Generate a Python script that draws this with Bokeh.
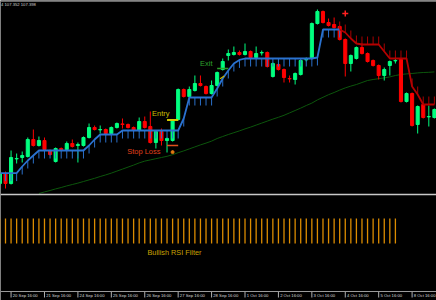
from bokeh.plotting import figure
from bokeh.models import Range1d, Span, ColumnDataSource
from bokeh.core.properties import value
from bokeh.embed import file_html
from bokeh.resources import INLINE

NaN = float("nan")

# ---------------- data (4h bars, index -1 .. 77) ----------------
bar_index = list(range(-1, 78))

opens = [107.285, 107.335, 107.285, 107.408, 107.415, 107.420, 107.505, 107.475, 107.500, 107.450,
         107.395, 107.460, 107.455, 107.485, 107.475, 107.475, 107.515, 107.565, 107.553, 107.555,
         107.535, 107.565, 107.583, 107.580, 107.565, 107.550, 107.595, 107.570, 107.490, 107.545,
         107.500, 107.500, 107.605, 107.755, 107.720, 107.750, 107.785, 107.770, 107.735, 107.775,
         107.855, 107.925, 107.930, 107.940, 107.930, 107.945, 107.915, 107.938, 107.940, 107.820,
         107.880, 107.855, 107.810, 107.805, 107.830, 107.903, 107.910, 108.085, 108.145, 108.090,
         108.080, 108.070, 108.005, 107.885, 107.910, 107.965, 107.935, 107.900, 107.875, 107.825,
         107.875, 107.898, 107.905, 107.695, 107.735, 107.580, 107.680, 107.618, 107.615]

highs = [107.350, 107.345, 107.450, 107.435, 107.445, 107.515, 107.555, 107.520, 107.515, 107.455,
         107.465, 107.465, 107.495, 107.505, 107.490, 107.520, 107.585, 107.575, 107.575, 107.560,
         107.570, 107.590, 107.610, 107.585, 107.570, 107.615, 107.620, 107.645, 107.550, 107.560,
         107.515, 107.605, 107.760, 107.760, 107.770, 107.825, 107.825, 107.775, 107.800, 107.845,
         107.910, 107.955, 107.970, 107.950, 107.985, 107.950, 107.970, 107.950, 107.945, 107.890,
         107.885, 107.860, 107.825, 107.840, 107.905, 107.915, 108.090, 108.155, 108.150, 108.110,
         108.115, 108.075, 108.010, 107.930, 107.970, 107.985, 107.940, 107.905, 107.880, 107.865,
         107.900, 107.910, 107.910, 107.740, 107.740, 107.675, 107.685, 107.675, 107.660]

lows = [107.275, 107.260, 107.280, 107.385, 107.390, 107.415, 107.470, 107.470, 107.450, 107.425,
        107.390, 107.450, 107.450, 107.465, 107.390, 107.470, 107.510, 107.550, 107.535, 107.530,
        107.530, 107.560, 107.560, 107.560, 107.545, 107.545, 107.560, 107.485, 107.460, 107.475,
        107.440, 107.495, 107.600, 107.715, 107.715, 107.745, 107.770, 107.730, 107.730, 107.770,
        107.850, 107.900, 107.925, 107.925, 107.925, 107.910, 107.910, 107.925, 107.865, 107.815,
        107.850, 107.790, 107.790, 107.780, 107.825, 107.895, 107.905, 108.080, 108.085, 108.070,
        108.060, 108.000, 107.820, 107.845, 107.905, 107.930, 107.890, 107.870, 107.805, 107.800,
        107.825, 107.885, 107.690, 107.690, 107.570, 107.535, 107.610, 107.570, 107.610]

closes = [107.335, 107.285, 107.415, 107.410, 107.425, 107.505, 107.475, 107.500, 107.455, 107.430,
          107.460, 107.455, 107.485, 107.470, 107.480, 107.515, 107.565, 107.555, 107.555, 107.535,
          107.565, 107.585, 107.580, 107.565, 107.550, 107.595, 107.565, 107.490, 107.545, 107.500,
          107.510, 107.600, 107.755, 107.720, 107.755, 107.785, 107.775, 107.735, 107.775, 107.840,
          107.895, 107.935, 107.940, 107.930, 107.945, 107.915, 107.935, 107.940, 107.870, 107.885,
          107.855, 107.815, 107.808, 107.835, 107.900, 107.905, 108.085, 108.145, 108.090, 108.075,
          108.065, 108.005, 107.885, 107.925, 107.965, 107.935, 107.895, 107.875, 107.825, 107.855,
          107.895, 107.900, 107.695, 107.735, 107.575, 107.670, 107.615, 107.620, 107.655]

# trailing stop (bullish, blue) and (bearish, red)
trail_up = [107.337, 107.337, 107.337, 107.337, 107.370, 107.400, 107.425,
            107.450, 107.450, 107.450, 107.450, 107.450, 107.450, 107.450, 107.450, 107.450,
            107.475, 107.505, 107.530, 107.530, 107.530, 107.530,
            107.550, 107.550, 107.550, 107.550, 107.550, 107.550, 107.550, 107.550, 107.550, 107.550, 107.550,
            107.610, 107.715, 107.715, 107.715, 107.715, 107.715,
            107.760, 107.810, 107.850, 107.885, 107.903,
            107.910, 107.910, 107.910, 107.910, 107.910, 107.910, 107.910, 107.910, 107.910, 107.910,
            107.910, 107.910, 107.910, 107.915, 108.055, 108.055, 108.055, 108.055,
            NaN, NaN, NaN, NaN, NaN, NaN, NaN, NaN, NaN, NaN, NaN, NaN, NaN, NaN, NaN, NaN, NaN]

trail_down = [NaN] * 61 + [108.055, 108.040, 108.010, 107.985, 107.980, 107.980, 107.980, 107.980,
                           107.945, 107.910, 107.910, 107.910, 107.910, 107.770, 107.730,
                           107.680, 107.680, 107.680]

moving_average = [NaN, NaN, NaN, NaN, NaN, NaN, NaN,
                  107.235, 107.243, 107.250, 107.258, 107.265, 107.273, 107.280, 107.287, 107.295,
                  107.303, 107.311, 107.320, 107.328, 107.337, 107.347, 107.357, 107.367, 107.377,
                  107.388, 107.397, 107.403, 107.409, 107.415, 107.421, 107.429, 107.439, 107.448,
                  107.458, 107.468, 107.478, 107.487, 107.497, 107.510, 107.520, 107.530, 107.539,
                  107.548, 107.558, 107.567, 107.577, 107.587, 107.597, 107.607, 107.616, 107.626,
                  107.638, 107.650, 107.662, 107.675, 107.687, 107.703, 107.716, 107.729, 107.740,
                  107.752, 107.763, 107.772, 107.780, 107.790, 107.800, 107.805, 107.809, 107.813,
                  107.818, 107.825, 107.830, 107.833, 107.835, 107.838, 107.840, 107.841, 107.843]

rsi_filter = [1, 1, 1, 1, 1, 1, 1, 1, 1, 1, 1, 1, 1, 1, 1, 1, 1, 1, 1, 1,
              1, 1, 1, 1, 1, 1, 1, 1, 1, 1, 1, 1, 1, 1, 1, 1, 1, 1, 1, 1,
              1, 1, 1, 1, 1, 1, 1, 1, 1, 1, 1, 1, 1, 1, 1, 1, 1, 1, 1, 1,
              1, 1, 1, 1, 1, 1, 1, 1, 1, 1, 1, 1, 0, 0, 0, 0, 0, 0, 0]

tick_index = [1, 7, 13, 19, 25, 31, 37, 43, 49, 55, 61, 67, 73]
tick_labels = ["20 Sep 16:00", "21 Sep 16:00", "24 Sep 16:00", "25 Sep 16:00",
               "26 Sep 16:00", "27 Sep 16:00", "28 Sep 16:00", "1 Oct 16:00", "2 Oct 16:00",
               "3 Oct 16:00", "4 Oct 16:00", "5 Oct 16:00", "8 Oct 16:00"]

entry_bar = 30
entry_price = 107.6025
stop_price = 107.475
exit_bar = 39
exit_price = 107.860
reversal_bar = 61
reversal_price = 108.135
header_text = "4 107.352 107.398"

# ---------------- figure ----------------
UP = "#00FF7F"
DOWN = "#FF0000"
FONT = value("Liberation Sans")

p = figure(width=436, height=300, x_range=Range1d(-0.898, 77.379), y_range=Range1d(106.70, 108.20),
           output_backend="svg", toolbar_location=None, min_border=0,
           x_axis_location=None, y_axis_location=None,
           background_fill_color="black", border_fill_color="black", outline_line_color=None)
p.extra_y_ranges = {"filter": Range1d(-2.28, 9.72)}
p.xgrid.grid_line_color = None
p.ygrid.grid_line_color = None
p.grid.visible = False

colors = [UP if c >= o else DOWN for o, c in zip(opens, closes)]
src = ColumnDataSource(dict(
    x=bar_index, high=highs, low=lows,
    top=[max(o, c) for o, c in zip(opens, closes)],
    bottom=[min(o, c) for o, c in zip(opens, closes)],
    color=colors))

# moving average
p.line(bar_index, moving_average, line_color="#0c560c", line_width=1)

# candles
p.segment(x0="x", y0="low", x1="x", y1="high", line_color="color", line_width=1, source=src)
p.vbar(x="x", top="top", bottom="bottom", width=0.55, fill_color="color", line_color="color",
       line_width=1, source=src)

# trailing stops with hanging ticks
TICK = 0.04
up_x = [i for i, v in zip(bar_index, trail_up) if v == v]
up_y = [v for v in trail_up if v == v]
p.segment(x0=up_x, y0=up_y, x1=up_x, y1=[v - TICK for v in up_y], line_color="#2a6fc8", line_width=1)
p.line(bar_index, trail_up, line_color="#2a72d0", line_width=1.8)

dn_x = [i for i, v in zip(bar_index, trail_down) if v == v]
dn_y = [v for v in trail_down if v == v]
p.segment(x0=dn_x, y0=dn_y, x1=dn_x, y1=[v + TICK for v in dn_y], line_color="#a80000", line_width=1)
p.line(bar_index, trail_down, line_color="#b40000", line_width=1.8)

# trade markers
p.segment(x0=[entry_bar - 1], y0=[entry_price], x1=[entry_bar + 1], y1=[entry_price],
          line_color="#d2c800", line_width=2)
p.segment(x0=[entry_bar - 1], y0=[stop_price], x1=[entry_bar + 1], y1=[stop_price],
          line_color="#e0501c", line_width=1.5)
p.segment(x0=[exit_bar - 1], y0=[exit_price], x1=[exit_bar + 1], y1=[exit_price],
          line_color="#2aa02a", line_width=1.5)
p.scatter([entry_bar], [stop_price - 0.033], marker="circle", size=3, fill_color="#e07a10",
          line_color="#e07a10")
p.scatter([exit_bar - 0.1], [exit_price - 0.044], marker="dash", size=5, angle=0.6,
          line_color="#c8b400", line_width=1.2)
p.scatter([reversal_bar], [reversal_price], marker="cross", size=6, line_color="#ff2020", line_width=1.5)

p.text(x=[entry_bar - 1], y=[entry_price], text=["Entry"], x_offset=2.5, y_offset=-6.5,
       text_align="right", text_baseline="middle", text_font=FONT, text_font_size="7.5px",
       text_color="#c8be00")
p.text(x=[entry_bar - 1], y=[stop_price], text=["Stop Loss"], x_offset=-6.5, y_offset=5.5,
       text_align="right", text_baseline="middle", text_font=FONT, text_font_size="7.5px",
       text_color="#e0401c")
p.text(x=[exit_bar - 1], y=[exit_price], text=["Exit"], x_offset=-4.7, y_offset=-5,
       text_align="right", text_baseline="middle", text_font=FONT, text_font_size="7.5px",
       text_color="#2da02d")

# lower panel: RSI filter histogram
f_x = [i for i, v in zip(bar_index, rsi_filter) if v > 0]
f_v = [v for v in rsi_filter if v > 0]
p.segment(x0=f_x, y0=[0] * len(f_x), x1=f_x, y1=f_v, line_color="#dc8c00", line_width=1.3,
          y_range_name="filter")
p.text(x=[25.49], y=[-0.36], text=["Bullish RSI Filter"], text_align="left", text_baseline="middle",
       text_font=FONT, text_font_size="7.3px", text_color="#c8a000", y_range_name="filter")

# panel borders
p.add_layout(Span(location=108.1975, dimension="width", line_color="#8c8c8c", line_width=1.5))
p.add_layout(Span(location=107.230, dimension="width", line_color="#c8c8c8", line_width=1.5))
p.add_layout(Span(location=106.745, dimension="width", line_color="#9a9a9a", line_width=1))

# time axis
p.segment(x0=tick_index, y0=[106.745] * len(tick_index), x1=tick_index, y1=[106.715] * len(tick_index),
          line_color="#b0b0b0", line_width=1)
p.text(x=tick_index, y=[106.725] * len(tick_index), text=tick_labels, x_offset=1.7,
       text_align="left", text_baseline="middle", text_font=FONT, text_font_size="4.2px",
       text_color="#d8d8d8")

# header
p.text(x=[-0.898], y=[108.18], text=[header_text], x_offset=0.5, text_align="left",
       text_baseline="middle", text_font=FONT, text_font_size="4.2px", text_color="#d0d0d0")

open("out.html", "w").write(file_html(p, INLINE))
